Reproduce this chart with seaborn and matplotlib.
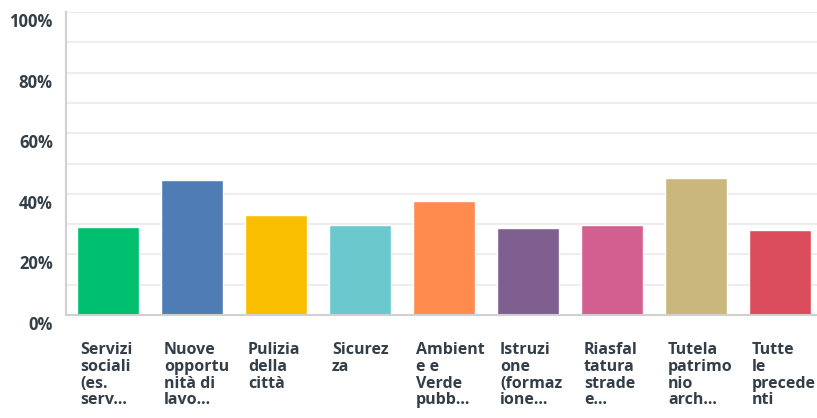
import matplotlib
matplotlib.use("Agg")
import matplotlib.pyplot as plt
import matplotlib.transforms as mtransforms
from matplotlib.ticker import MultipleLocator, FuncFormatter
import seaborn as sns
import pandas as pd

categories = [
    "Servizi\nsociali\n(es.\nserv...",
    "Nuove\nopportu\nnità di\nlavo...",
    "Pulizia\ndella\ncittà",
    "Sicurez\nza",
    "Ambient\ne e\nVerde\npubb...",
    "Istruzi\none\n(formaz\nione...",
    "Riasfal\ntatura\nstrade\ne...",
    "Tutela\npatrimo\nnio\narch...",
    "Tutte\nle\nprecede\nnti",
]
values = [29.0, 44.6, 33.0, 29.7, 37.6, 28.7, 29.7, 45.2, 28.1]
colors = ["#00BF6F", "#507CB6", "#F9BE00", "#6BC8CD", "#FF8B4F",
          "#7F5F90", "#D25F90", "#C9B77C", "#DB4D5C"]

sns.set_theme(style="white")
plt.rcParams["font.family"] = ["Open Sans", "DejaVu Sans"]

df = pd.DataFrame({"cat": categories, "val": values})

fig = plt.figure(figsize=(8.17, 4.18), dpi=100)
ax = fig.add_axes([66 / 817, 103 / 418, 756 / 817, 303 / 418])

bar_w = 0.73
sns.barplot(data=df, x="cat", y="val", hue="cat", palette=colors,
            legend=False, width=bar_w, ax=ax, saturation=1)

ax.set_xlim(-0.5, len(categories) - 0.5)
ax.set_ylim(0, 100)
ax.set_xlabel("")
ax.set_ylabel("")

ax.yaxis.set_major_locator(MultipleLocator(20))
ax.yaxis.set_minor_locator(MultipleLocator(10))
ax.yaxis.set_major_formatter(FuncFormatter(lambda v, p: f"{int(v)}%"))
ax.grid(True, axis="y", which="both", color="#EDEDED", linewidth=1.5)
ax.set_axisbelow(True)

for side in ["top", "right"]:
    ax.spines[side].set_visible(False)
for side in ["left", "bottom"]:
    ax.spines[side].set_color("#D0D0D0")
    ax.spines[side].set_linewidth(1.5)

text_color = "#333E48"
ax.tick_params(axis="y", which="both", length=0, pad=9.5,
               labelsize=12, labelcolor=text_color)
ax.tick_params(axis="x", length=0, pad=19.5, labelsize=11.5, labelcolor=text_color)

dy = mtransforms.ScaledTranslation(0, -0.08, fig.dpi_scale_trans)
for lab in ax.get_yticklabels():
    lab.set_fontweight("bold")
    lab.set_transform(lab.get_transform() + dy)

dx = mtransforms.ScaledTranslation(-0.28, 0, fig.dpi_scale_trans)
for lab in ax.get_xticklabels():
    lab.set_ha("left")
    lab.set_va("top")
    lab.set_multialignment("left")
    lab.set_fontweight("bold")
    lab.set_linespacing(1.06)
    lab.set_transform(lab.get_transform() + dx)

fig.savefig("out.png", dpi=100)
